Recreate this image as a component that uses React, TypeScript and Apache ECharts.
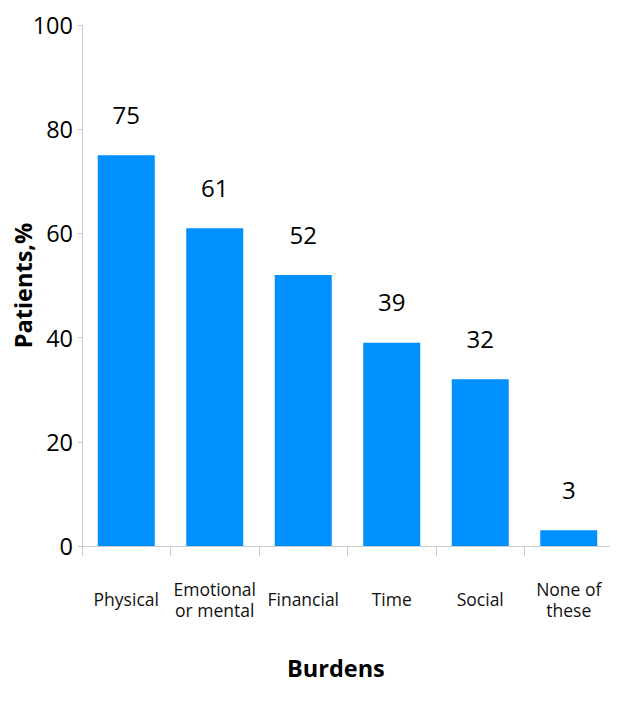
import { useEffect, useRef } from 'react';
import * as echarts from 'echarts';

const categories = ['Physical', 'Emotional\nor mental', 'Financial', 'Time', 'Social', 'None of\nthese'];
const patients = [75, 61, 52, 39, 32, 3];
const yTicks = { min: 0, max: 100, interval: 20 };

const FONT = '"Open Sans", "Noto Sans", sans-serif';
const AXIS_GRAY = '#cccccc';

export default function App() {
  const ref = useRef<HTMLDivElement>(null);

  useEffect(() => {
    if (!ref.current) return;
    const chart = echarts.init(ref.current, undefined, { renderer: 'svg' });
    chart.setOption({
      animation: false,
      textStyle: { fontFamily: FONT },
      // body margin is 8px, so the grid is shifted up/left by 8
      grid: { left: 74, right: 13, top: 17, bottom: 172, outerBoundsMode: 'none', containLabel: false },
      xAxis: {
        type: 'category',
        data: categories,
        axisLine: { lineStyle: { color: AXIS_GRAY, width: 1 } },
        axisTick: { show: true, length: 10, lineStyle: { color: AXIS_GRAY } },
        axisLabel: {
          color: '#111',
          fontSize: 17.5,
          lineHeight: 21,
          margin: 53,
          verticalAlign: 'middle',
          interval: 0,
          hideOverlap: false,
          fontFamily: FONT,
        },
      },
      yAxis: {
        type: 'value',
        ...yTicks,
        name: 'Patients,%',
        nameLocation: 'middle',
        nameGap: 47,
        nameMoveOverlap: false,
        nameTextStyle: { color: '#000', fontSize: 23.5, fontWeight: 'bold', fontFamily: FONT },
        axisLine: { show: true, lineStyle: { color: AXIS_GRAY, width: 1 } },
        axisTick: { show: true, length: 4, lineStyle: { color: AXIS_GRAY } },
        splitLine: { show: false },
        axisLabel: { color: '#000', fontSize: 23.5, margin: 9, fontFamily: FONT },
      },
      graphic: [
        {
          type: 'text',
          left: 279,
          top: 648,
          style: { text: 'Burdens', fontSize: 23.5, fontWeight: 'bold', fill: '#000', fontFamily: FONT },
        },
      ],
      series: [
        {
          type: 'bar',
          data: patients,
          barWidth: 57,
          itemStyle: { color: '#0091ff' },
          label: {
            show: true,
            position: 'top',
            distance: 29,
            color: '#000',
            fontSize: 24,
            fontFamily: FONT,
          },
        },
      ],
    });
    return () => chart.dispose();
  }, []);

  return <div ref={ref} style={{ width: 618, height: 710 }} />;
}
